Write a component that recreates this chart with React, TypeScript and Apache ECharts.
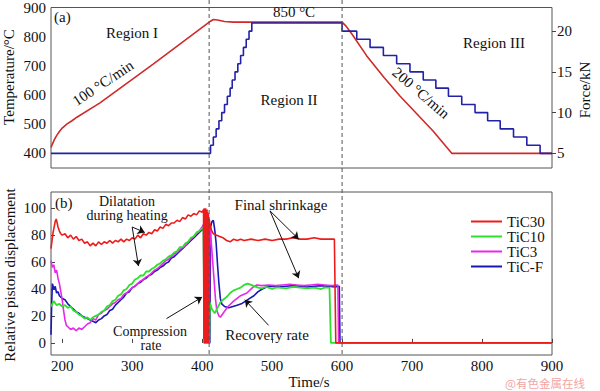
import React, { useEffect, useRef } from "react";
import * as echarts from "echarts";

const timeRange = [184, 900];
const tempRange = [350, 900];
const forceRange = [3.2, 22.9];
const dispRange = [-9, 112];
const boundaryTimes = [410, 600];
const legendNames = ["TiC30", "TiC10", "TiC3", "TiC-F"];

const temperature = [
  [184, 420], [186, 432], [189, 448], [192, 461], [196, 475], [200, 487], [207, 501], [214, 512],
  [221, 524], [254, 573], [330, 706], [412, 853], [416, 859], [422, 857], [432, 852], [445, 850],
  [600, 850], [605, 838], [615, 806], [635, 735], [660, 660], [683, 596], [705, 540], [730, 477],
  [757, 400], [900, 400],
];

const force = [
  [184, 5], [412, 6], [416, 7], [420, 8], [424, 9], [428, 10], [432, 11], [436, 12], [440, 13],
  [443, 14], [447, 15], [451, 16], [455, 17], [459, 18], [463, 19], [467, 20], [471, 21],
  [600, 20], [621, 19], [640, 18], [659, 17], [678, 16], [697, 15], [716, 14], [734, 13],
  [752, 12], [771, 11], [790, 10], [808, 9], [826, 8], [845, 7], [864, 6], [883, 5], [900, 5],
];

const tic30 = [
  [184, 70], [187, 82], [190, 90], [191.5, 92], [194, 86], [196, 83], [198, 81], [200, 80], [204, 81],
  [208, 78], [212, 80], [216, 77], [220, 79], [224, 76], [228, 77], [232, 74], [236, 75], [240, 72],
  [244, 74], [248, 72], [252, 75], [256, 73], [260, 75], [264, 74], [268, 76], [272, 74], [276, 76],
  [280, 75], [284, 77], [288, 75], [292, 77], [296, 76], [300, 78], [304, 77], [308, 80], [312, 78],
  [316, 81], [320, 80], [324, 82], [328, 81], [332, 84], [336, 83], [340, 86], [344, 85], [348, 88],
  [352, 87], [356, 89], [360, 89], [364, 91], [368, 90], [372, 93], [376, 92], [380, 95], [384, 94],
  [388, 96], [392, 95], [396, 98], [400, 97], [402, 99], [402.5, 3], [403, 100], [403.5, 0], [404, 99],
  [404.5, 1], [405, 100], [405.5, 0], [406, 98], [406.5, 0], [407, 99], [407.5, 1], [408, 97],
  [408.5, 0], [409, 96], [409.5, 0], [410, 92], [411, 89], [413, 84], [416, 81], [420, 80], [425, 79],
  [430, 78], [435, 76], [440, 75], [445, 77], [450, 76], [455, 77], [460, 76], [470, 77], [480, 76],
  [490, 77], [500, 76], [510, 77], [520, 77], [530, 78], [540, 77], [550, 77], [560, 78], [570, 77],
  [580, 77], [589, 77], [591, 0], [900, 0],
];

const tic10 = [
  [184, 27], [188, 31], [192, 28], [196, 29], [200, 27], [204, 28], [208, 26], [212, 27], [216, 24],
  [220, 23], [224, 21], [228, 20], [232, 18], [236, 19], [240, 17], [244, 19], [248, 20], [252, 21],
  [256, 23], [260, 24], [264, 27], [268, 28], [272, 31], [276, 32], [280, 35], [284, 36], [288, 39],
  [292, 40], [296, 43], [300, 44], [304, 47], [308, 48], [312, 50], [316, 50], [320, 53], [324, 53],
  [328, 55], [332, 56], [336, 58], [340, 59], [344, 61], [348, 62], [352, 64], [356, 65], [360, 67],
  [364, 68], [368, 71], [372, 71], [376, 74], [380, 75], [384, 78], [388, 79], [392, 82], [396, 83],
  [400, 85], [402, 86], [403, 0], [410, 0], [411, 30], [414, 25], [418, 22], [422, 26], [426, 30],
  [430, 32], [435, 34], [440, 37], [445, 39], [450, 40], [455, 41], [460, 43], [465, 44], [470, 43],
  [475, 42], [480, 41], [485, 40.5], [490, 41.5], [495, 41], [500, 40], [505, 41], [510, 41],
  [520, 40.5], [530, 41.5], [540, 41], [550, 40.5], [560, 41], [570, 40], [575, 41], [582, 41],
  [584, 0], [900, 0],
];

const tic3 = [
  [184, 61], [186, 56], [188, 58], [190, 52], [192, 54], [194, 48], [196, 44], [198, 38], [200, 32],
  [202, 24], [204, 17], [206, 13], [208, 12], [212, 10], [216, 11], [220, 9], [224, 11], [228, 10],
  [232, 12], [236, 14], [240, 15], [244, 18], [248, 17], [252, 21], [256, 22], [260, 24], [264, 25],
  [268, 27], [272, 29], [276, 30], [280, 32], [284, 33], [288, 36], [292, 37], [296, 39], [300, 41],
  [304, 42], [308, 44], [312, 46], [316, 47], [320, 49], [324, 50], [328, 52], [332, 54], [336, 55],
  [340, 57], [344, 59], [348, 61], [352, 62], [356, 64], [360, 66], [364, 67], [368, 69], [372, 71],
  [376, 72], [380, 75], [384, 77], [388, 79], [392, 81], [396, 83], [400, 86], [403, 89], [404, 90],
  [405, 0], [410, 0], [411, 88], [413, 75], [416, 54], [419, 33], [421, 24], [424, 20], [426, 19],
  [430, 22], [437, 27], [445, 31], [455, 35], [464, 37], [472, 41], [478, 43], [485, 42.5], [495, 43],
  [505, 42.5], [515, 43], [525, 43.5], [535, 43], [545, 42.5], [555, 43], [565, 43.5], [575, 43],
  [585, 42.5], [594, 43], [595, 0], [900, 0],
];

const ticF = [
  [184, 6], [185, 30], [186, 44], [188, 40], [190, 42], [192, 37], [194, 38], [196, 35], [200, 33],
  [204, 32], [208, 29], [212, 27], [216, 25], [220, 23], [224, 22], [228, 20], [232, 19], [236, 18],
  [240, 17], [244, 16], [248, 15], [252, 17], [256, 18], [260, 20], [264, 21], [268, 24], [272, 25],
  [276, 28], [280, 30], [284, 32], [288, 34], [292, 37], [296, 38], [300, 41], [304, 42], [308, 44],
  [312, 45], [316, 47], [320, 48], [324, 50], [328, 51], [332, 53], [336, 54], [340, 56], [344, 57],
  [348, 59], [352, 60], [356, 63], [360, 64], [364, 66], [368, 68], [372, 70], [376, 72], [380, 74],
  [384, 76], [388, 78], [392, 80], [396, 82], [400, 84], [402, 85], [403, 0], [411, 0], [412, 86],
  [414, 90], [416, 91], [418, 84], [420, 74], [422, 58], [424, 44], [426, 33], [428, 29], [432, 27],
  [438, 26], [444, 27], [450, 28], [456, 29], [462, 31], [468, 33], [474, 35], [480, 38], [486, 40],
  [492, 41.5], [500, 42], [510, 41.5], [520, 42], [530, 42.5], [540, 42], [550, 41.5], [560, 42],
  [570, 42.5], [580, 42], [590, 41.5], [596, 42], [597, 0], [900, 0],
];

const arrowCoords = [
  [[300, 86], [318, 82]],
  [[300, 86], [309, 57]],
  [[349, 18], [400, 34]],
  [[497, 98], [538, 77]],
  [[497, 98], [538, 48]],
  [[495, 13], [461, 32]],
];

const FONT = "Liberation Serif";

function txt(text: string, x: number, y: number, opts: any = {}) {
  const align = opts.align || "center";
  return {
    type: "text",
    x,
    y,
    rotation: opts.rotation || 0,
    silent: true,
    z: 50,
    style: {
      text,
      fill: opts.color || "#111",
      fontSize: opts.size || 15,
      fontFamily: opts.family || FONT,
      lineHeight: opts.lineHeight,
      align,
      textAlign: align,
      verticalAlign: "middle",
      textVerticalAlign: "middle",
    },
  };
}

export default function App() {
  const ref = useRef<HTMLDivElement>(null);
  useEffect(() => {
    const chart = echarts.init(ref.current!, null, { renderer: "svg" });
    const label = { fontFamily: FONT, fontSize: 15, color: "#111", margin: 5 };
    const noSplit = { show: false };
    const noLine = { show: false };
    chart.setOption({
      animation: false,
      backgroundColor: "#fff",
      grid: [
        { left: 51, top: 5, width: 501, height: 163, show: true, borderColor: "#555", borderWidth: 1, backgroundColor: "transparent" },
        { left: 51, top: 192, width: 501, height: 163, show: true, borderColor: "#555", borderWidth: 1, backgroundColor: "transparent" },
      ],
      xAxis: [
        { type: "value", gridIndex: 0, min: timeRange[0], max: timeRange[1], axisLine: noLine, axisTick: { show: false }, axisLabel: { show: false }, splitLine: noSplit },
        {
          type: "value", gridIndex: 1, min: timeRange[0], max: timeRange[1], splitNumber: 7,
          axisLine: noLine, axisTick: { show: true, inside: true, length: 4, lineStyle: { color: "#444" } },
          axisLabel: { ...label, margin: 3, showMinLabel: false }, splitLine: noSplit,
        },
      ],
      yAxis: [
        {
          type: "value", gridIndex: 0, min: tempRange[0], max: tempRange[1], splitNumber: 5,
          axisLine: noLine, axisTick: { show: false },
          axisLabel: { ...label, showMinLabel: false }, splitLine: noSplit,
        },
        {
          type: "value", gridIndex: 0, position: "right", min: forceRange[0], max: forceRange[1], splitNumber: 4,
          axisLine: noLine, axisTick: { show: true, inside: false, length: 4, lineStyle: { color: "#444" } },
          axisLabel: { ...label, showMinLabel: false, showMaxLabel: false }, splitLine: noSplit,
        },
        {
          type: "value", gridIndex: 1, min: dispRange[0], max: dispRange[1], splitNumber: 5,
          axisLine: noLine, axisTick: { show: true, inside: true, length: 4, lineStyle: { color: "#444" } },
          axisLabel: { ...label, showMinLabel: false, showMaxLabel: false }, splitLine: noSplit,
        },
      ],
      legend: {
        data: legendNames,
        orient: "vertical",
        left: 466,
        top: 209,
        itemWidth: 31,
        itemHeight: 2,
        itemGap: 0,
        icon: "rect",
        textStyle: { fontFamily: FONT, fontSize: 15, color: "#111", lineHeight: 15 },
      },
      series: [
        { type: "line", name: "Temperature", xAxisIndex: 0, yAxisIndex: 0, data: temperature, showSymbol: false, lineStyle: { color: "#cf2a2a", width: 1.6 }, itemStyle: { color: "#cf2a2a" } },
        { type: "line", name: "Force", xAxisIndex: 0, yAxisIndex: 1, data: force, step: "end", showSymbol: false, lineStyle: { color: "#2222a8", width: 1.6 }, itemStyle: { color: "#2222a8" } },
        { type: "line", name: "TiC-F", xAxisIndex: 1, yAxisIndex: 2, data: ticF, showSymbol: false, lineStyle: { color: "#1818b4", width: 1.6 }, itemStyle: { color: "#1818b4" } },
        { type: "line", name: "TiC3", xAxisIndex: 1, yAxisIndex: 2, data: tic3, showSymbol: false, lineStyle: { color: "#e828e8", width: 1.6 }, itemStyle: { color: "#e828e8" } },
        { type: "line", name: "TiC10", xAxisIndex: 1, yAxisIndex: 2, data: tic10, showSymbol: false, lineStyle: { color: "#2ee02e", width: 1.8 }, itemStyle: { color: "#2ee02e" } },
        {
          type: "line", name: "TiC30", xAxisIndex: 1, yAxisIndex: 2, data: tic30, showSymbol: false,
          lineStyle: { color: "#ec1c1c", width: 1.6 }, itemStyle: { color: "#ec1c1c" },
          markLine: {
            silent: true,
            symbol: ["none", "arrow"],
            symbolSize: 7,
            label: { show: false },
            lineStyle: { color: "#111", width: 1, type: "solid" },
            data: arrowCoords.map((a) => [{ coord: a[0] }, { coord: a[1] }]),
          },
        },
      ],
    });

    const graphic: any[] = [
      txt("(a)", 54, 17, { align: "left" }),
      txt("Region I", 132, 33),
      txt("100 °C/min", 103, 83, { rotation: 0.588 }),
      txt("850 °C", 294, 12),
      txt("Region II", 289, 100),
      txt("Region III", 494, 43),
      txt("200 °C/min", 421, 93, { rotation: -0.71 }),
      txt("Temperature/°C", 9, 77, { rotation: Math.PI / 2 }),
      txt("Force/kN", 585, 90, { rotation: Math.PI / 2 }),
      txt("(b)", 55, 203, { align: "left" }),
      txt("Dilatation", 127, 201.5, { size: 14 }),
      txt("during heating", 127, 215.5, { size: 14 }),
      txt("Final shrinkage", 281, 205),
      txt("Compression", 150, 331.5, { size: 14 }),
      txt("rate", 151, 345.5, { size: 14 }),
      txt("Recovery rate", 267, 335),
      txt("Relative piston displacement", 10, 275, { rotation: Math.PI / 2 }),
      txt("Time/s", 309, 382),
      txt("@有色金属在线", 545, 382.5, { color: "#f2a4a4", size: 11.5, lineHeight: 12, family: "Noto Sans CJK SC" }),
    ];
    const yBottom = chart.convertToPixel({ yAxisIndex: 2 }, dispRange[0]) as number;
    boundaryTimes.forEach((t) => {
      const x = chart.convertToPixel({ xAxisIndex: 1 }, t) as number;
      graphic.push({
        type: "line",
        silent: true,
        z: 60,
        shape: { x1: x, y1: 0, x2: x, y2: yBottom },
        style: { stroke: "#555", lineWidth: 1, lineDash: [4, 3] },
      });
    });
    chart.setOption({ graphic });
    return () => chart.dispose();
  }, []);
  return (
    <div
      ref={ref}
      style={{ position: "fixed", left: 0, top: 0, width: 600, height: 391, background: "#fff" }}
    />
  );
}
